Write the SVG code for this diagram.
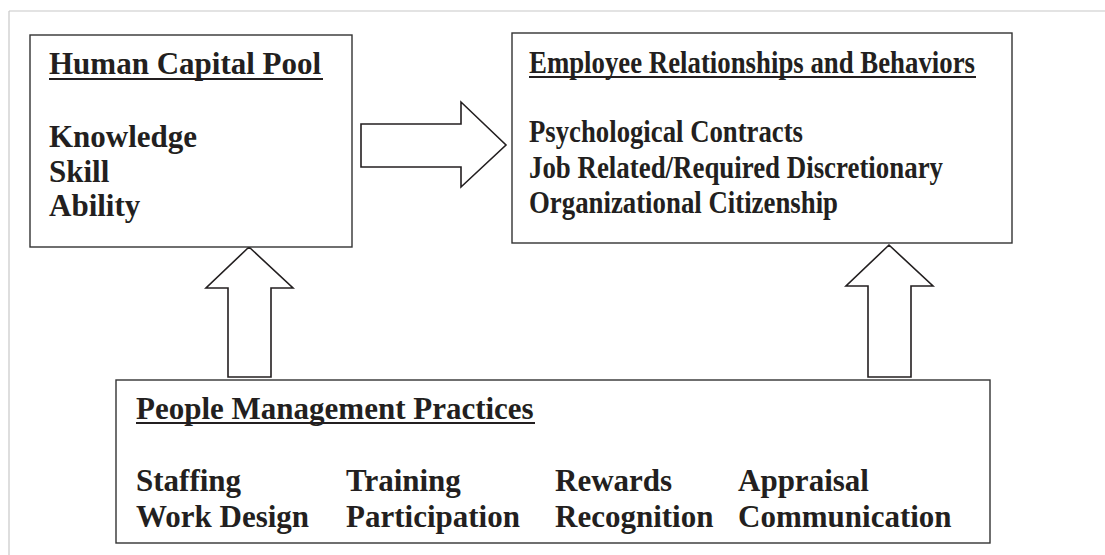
<svg xmlns="http://www.w3.org/2000/svg" width="1105" height="555" viewBox="0 0 1105 555">
<style>
.box{fill:#fff;stroke:#333;stroke-width:1.4}
.arrow{fill:#fff;stroke:#231f20;stroke-width:1.6;stroke-linejoin:miter}
.t{font-family:"Liberation Serif","Times New Roman",serif;font-weight:bold;fill:#231f20;font-size:31px}
.ul{stroke:#231f20;stroke-width:2}
</style>
<rect width="1105" height="555" fill="#fff"/>
<g id="frame">
<line x1="9" y1="11" x2="1105" y2="11" stroke="#c8c8c8" stroke-width="1.2"/>
<line x1="9" y1="11" x2="9" y2="555" stroke="#c8c8c8" stroke-width="1.2"/>
</g>
<g id="connectors">
<polygon class="arrow" points="361,124 461,124 461,102 506,145 461,187 461,167 361,167"/>
<polygon class="arrow" points="228,377 228,288 206,288 249,247 293,288 271,288 271,377"/>
<polygon class="arrow" points="868,377 868,286 846,286 889,245 933,286 911,286 911,377"/>
</g>
<g id="human-capital-pool">
<rect class="box" x="30" y="35" width="322" height="212"/>
<text class="t" x="49" y="74">Human Capital Pool</text>
<line class="ul" x1="49" y1="79" x2="323" y2="79"/>
<text class="t" x="49" y="147">Knowledge</text>
<text class="t" x="49" y="182">Skill</text>
<text class="t" x="49" y="216">Ability</text>
</g>
<g id="employee-relationships">
<rect class="box" x="512" y="33" width="500" height="210"/>
<text class="t" x="529" y="73" textLength="446" lengthAdjust="spacingAndGlyphs">Employee Relationships and Behaviors</text>
<line class="ul" x1="529" y1="77" x2="976" y2="77"/>
<text class="t" x="529" y="142" textLength="274" lengthAdjust="spacingAndGlyphs">Psychological Contracts</text>
<text class="t" x="529" y="178" textLength="414" lengthAdjust="spacingAndGlyphs">Job Related/Required Discretionary</text>
<text class="t" x="529" y="213" textLength="309" lengthAdjust="spacingAndGlyphs">Organizational Citizenship</text>
</g>
<g id="people-management">
<rect class="box" x="116" y="380" width="874" height="163"/>
<text class="t" x="136" y="419">People Management Practices</text>
<line class="ul" x1="136" y1="423" x2="535" y2="423"/>
<text class="t" x="136" y="491">Staffing</text>
<text class="t" x="136" y="527">Work Design</text>
<text class="t" x="346" y="491">Training</text>
<text class="t" x="346" y="527">Participation</text>
<text class="t" x="555" y="491">Rewards</text>
<text class="t" x="555" y="527">Recognition</text>
<text class="t" x="738" y="491">Appraisal</text>
<text class="t" x="738" y="527">Communication</text>
</g>
</svg>
